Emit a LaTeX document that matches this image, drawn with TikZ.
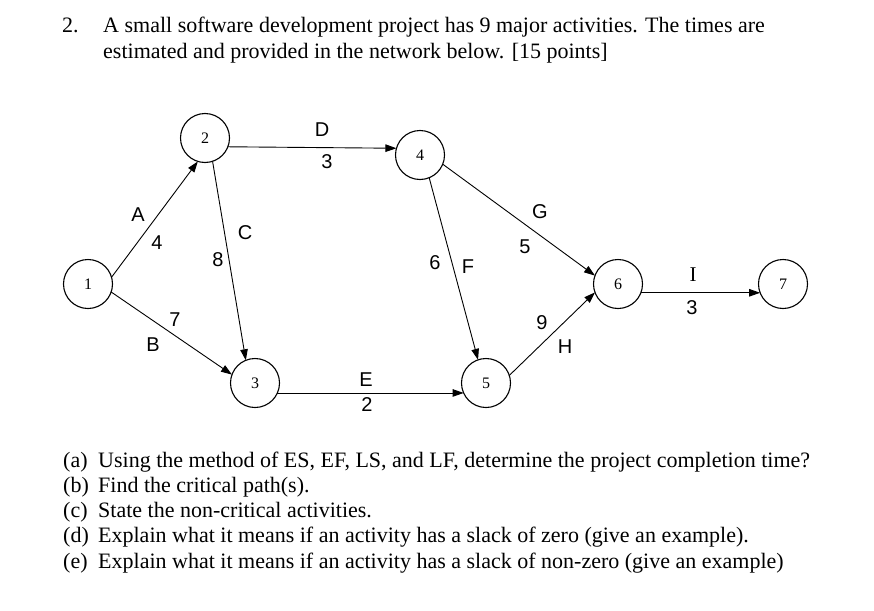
\documentclass[tikz,border=0pt]{standalone}
\usepackage{fontspec}
\setmainfont{Liberation Serif}
\newfontfamily\handfont{Liberation Sans}
\usetikzlibrary{arrows.meta}
\begin{document}
\begin{tikzpicture}[x=1pt,y=-1pt,
  evt/.style={circle,draw,line width=1.1pt,minimum size=49pt,inner sep=0pt,outer sep=0pt,font=\fontsize{16}{16}\selectfont},
  act/.style={line width=0.9pt,-{Triangle[length=11pt,width=7.5pt]}},
  lbl/.style={font=\handfont\fontsize{20}{20}\selectfont,inner sep=0pt},
  txt/.style={anchor=base west,inner sep=0pt,font=\fontsize{22}{22}\selectfont}]
\useasboundingbox (0,0) rectangle (874,610);
% header
\node[txt] (num) at (62,33) {2.};
\node[txt] (h1) at (103,33) {A small software development project has 9 major activities. The times are};
\node[txt] (h2) at (103,58) {estimated and provided in the network below. [15 points]};
% events
\node[evt] (n1) at (88,284) {1};
\node[evt] (n2) at (205,138) {2};
\node[evt] (n3) at (255,383) {3};
\node[evt] (n4) at (420,155) {4};
\node[evt] (n5) at (486,383) {5};
\node[evt] (n6) at (618,284) {6};
\node[evt] (n7) at (783,284) {7};
% activities
\draw[act] (n1.16) -- (n2.253);
\draw[act] (n1.-19) -- (n3.160);
\draw[act] (n2.-72) -- (n3.112);
\draw[act] (n2.-21) -- (n4.164);
\draw[act] (n3.-24) -- (n5.204);
\draw[act] (n4.-68) -- (n5.109);
\draw[act] (n4.-22) -- (n6.160);
\draw[act] (n5.18) -- (n6.200);
\draw[act] (n6.-21) -- (n7.201);
% labels
\node[lbl] (lA) at (138,215) {A};
\node[lbl] (l4) at (157,243) {4};
\node[lbl] (lB) at (153,345) {B};
\node[lbl] (l7) at (175,320) {7};
\node[lbl] (lC) at (245,233) {C};
\node[lbl] (l8) at (218,260) {8};
\node[lbl] (lD) at (322,130) {D};
\node[lbl] (l3a) at (327,162) {3};
\node[lbl] (lE) at (366,380) {E};
\node[lbl] (l2) at (367,405) {2};
\node[lbl] (l6) at (435,263) {6};
\node[lbl] (lF) at (468,267) {F};
\node[lbl] (lG) at (540,212) {G};
\node[lbl] (l5) at (525,247) {5};
\node[lbl] (l9) at (542,323) {9};
\node[lbl] (lH) at (565,347) {H};
\node[lbl,font=\rmfamily\fontsize{21}{21}\selectfont] (lI) at (693,275) {I};
\node[lbl] (l3b) at (692,308) {3};
% questions
\node[txt] (qa) at (63,467) {\makebox[35pt][l]{(a)}Using the method of ES, EF, LS, and LF, determine the project completion time?};
\node[txt] (qb) at (63,492) {\makebox[35pt][l]{(b)}Find the critical path(s).};
\node[txt] (qc) at (63,517) {\makebox[35pt][l]{(c)}State the non-critical activities.};
\node[txt] (qd) at (63,542) {\makebox[35pt][l]{(d)}Explain what it means if an activity has a slack of zero (give an example).};
\node[txt] (qe) at (63,568) {\makebox[35pt][l]{(e)}Explain what it means if an activity has a slack of non-zero (give an example)};
\end{tikzpicture}
\end{document}
